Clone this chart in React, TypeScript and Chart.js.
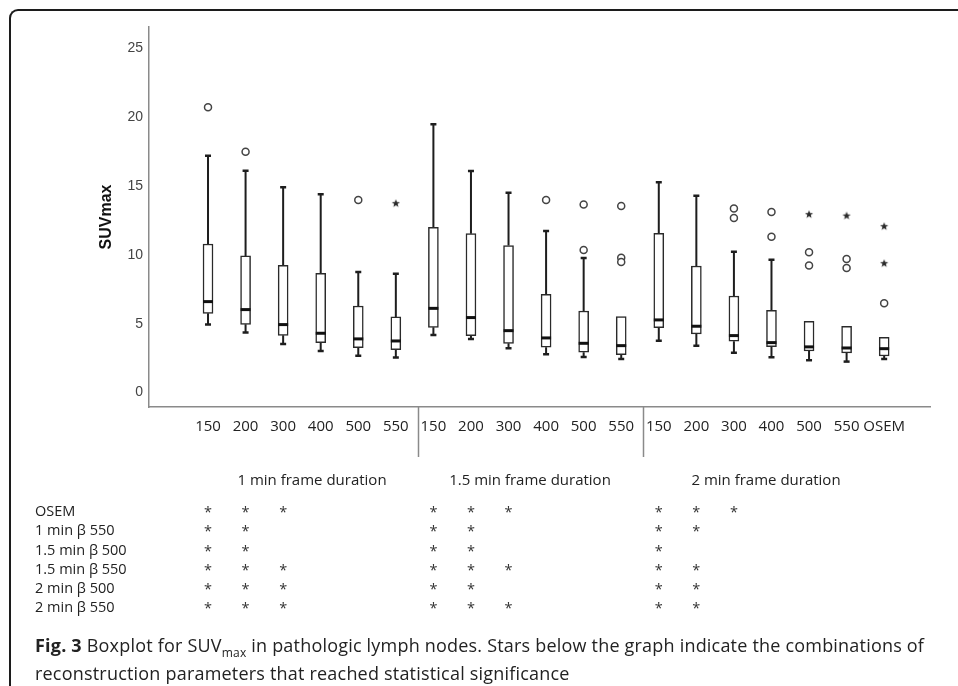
import React, { useEffect, useRef } from "react";
import { Chart, registerables } from "chart.js";

Chart.register(...registerables);

// ---- data ----
const xLabels = ["150", "200", "300", "400", "500", "550", "150", "200", "300", "400", "500", "550", "150", "200", "300", "400", "500", "550", "OSEM"];
const groupNames = ["1 min frame duration", "1.5 min frame duration", "2 min frame duration"];
const groupSizes = [6, 6, 7];

const whiskerLow = [4.75, 4.17, 3.34, 2.83, 2.49, 2.35, 4.0, 3.71, 3.03, 2.59, 2.4, 2.25, 3.58, 3.22, 2.71, 2.37, 2.16, 2.06, 2.25];
const q1 = [5.57, 4.77, 3.97, 3.44, 3.08, 2.93, 4.55, 3.95, 3.39, 3.1, 2.74, 2.57, 4.53, 4.07, 3.54, 3.15, 2.83, 2.69, 2.47];
const median = [6.42, 5.84, 4.75, 4.12, 3.71, 3.56, 5.93, 5.26, 4.31, 3.78, 3.39, 3.22, 5.09, 4.63, 3.95, 3.44, 3.13, 3.05, 3.0];
const q3 = [10.61, 9.74, 9.06, 8.48, 6.1, 5.31, 11.82, 11.36, 10.49, 6.95, 5.74, 5.33, 11.39, 9.01, 6.83, 5.79, 4.99, 4.63, 3.83];
const whiskerHigh = [17.03, 15.94, 14.73, 14.22, 8.58, 8.45, 19.31, 15.92, 14.34, 11.56, 9.59, 5.33, 15.09, 14.12, 10.05, 9.47, 4.99, 4.63, 3.83];

const outlierIdx = [0, 1, 4, 9, 10, 10, 11, 11, 11, 14, 14, 15, 15, 16, 16, 17, 17, 18];
const outlierVal = [20.55, 17.32, 13.81, 13.81, 13.47, 10.17, 13.37, 9.6, 9.3, 13.18, 12.5, 12.94, 11.14, 10.0, 9.04, 9.52, 8.87, 6.3];
const extremeIdx = [5, 16, 17, 18, 18];
const extremeVal = [13.57, 12.77, 12.67, 11.9, 9.21];

const yTicks = [0, 5, 10, 15, 20, 25];

const rowLabels = ["OSEM", "1 min \u03b2 550", "1.5 min \u03b2 500", "1.5 min \u03b2 550", "2 min \u03b2 500", "2 min \u03b2 550"];
const sigColumns = [0, 1, 2, 6, 7, 8, 12, 13, 14];
const sigRows = [
  [1, 1, 1, 1, 1, 1, 1, 1, 1],
  [1, 1, 0, 1, 1, 0, 1, 1, 0],
  [1, 1, 0, 1, 1, 0, 1, 0, 0],
  [1, 1, 1, 1, 1, 1, 1, 1, 0],
  [1, 1, 1, 1, 1, 0, 1, 1, 0],
  [1, 1, 1, 1, 1, 1, 1, 1, 0],
];

function makeStar(): HTMLCanvasElement {
  const c = document.createElement("canvas");
  c.width = 10;
  c.height = 10;
  const g = c.getContext("2d")!;
  g.fillStyle = "#2a2a2a";
  g.beginPath();
  for (let k = 0; k < 10; k++) {
    const r = k % 2 ? 1.8 : 4.3;
    const a = -Math.PI / 2 + (k * Math.PI) / 5;
    const px = 5 + r * Math.cos(a);
    const py = 5.3 + r * Math.sin(a);
    if (k === 0) g.moveTo(px, py);
    else g.lineTo(px, py);
  }
  g.closePath();
  g.fill();
  return c;
}

const boxPlugin = {
  id: "boxplotParts",
  beforeDatasetsDraw(chart: any) {
    const { ctx, scales } = chart;
    const x = scales.x;
    const y = scales.y;
    ctx.save();
    ctx.strokeStyle = "#1e1e1e";
    for (let i = 0; i < q1.length; i++) {
      const px = x.getPixelForValue(i);
      ctx.lineWidth = 2;
      ctx.beginPath();
      if (whiskerHigh[i] > q3[i]) {
        ctx.moveTo(px, y.getPixelForValue(whiskerHigh[i]));
        ctx.lineTo(px, y.getPixelForValue(q3[i]));
      }
      if (whiskerLow[i] < q1[i]) {
        ctx.moveTo(px, y.getPixelForValue(q1[i]));
        ctx.lineTo(px, y.getPixelForValue(whiskerLow[i]));
      }
      ctx.stroke();
      ctx.lineWidth = 2.5;
      ctx.beginPath();
      if (whiskerHigh[i] > q3[i]) {
        const yy = y.getPixelForValue(whiskerHigh[i]);
        ctx.moveTo(px - 3, yy);
        ctx.lineTo(px + 3, yy);
      }
      if (whiskerLow[i] < q1[i]) {
        const yy = y.getPixelForValue(whiskerLow[i]);
        ctx.moveTo(px - 3, yy);
        ctx.lineTo(px + 3, yy);
      }
      ctx.stroke();
    }
    ctx.restore();
  },
  afterDatasetsDraw(chart: any) {
    const { ctx, scales } = chart;
    const x = scales.x;
    const y = scales.y;
    ctx.save();
    ctx.strokeStyle = "#111";
    ctx.lineWidth = 3;
    for (let i = 0; i < median.length; i++) {
      const px = x.getPixelForValue(i);
      const yy = y.getPixelForValue(median[i]);
      ctx.beginPath();
      ctx.moveTo(px - 5, yy);
      ctx.lineTo(px + 5, yy);
      ctx.stroke();
    }
    ctx.restore();
  },
  afterDraw(chart: any) {
    const { ctx, scales, chartArea } = chart;
    const x = scales.x;
    ctx.save();
    // group separators
    ctx.strokeStyle = "#8a8a8a";
    ctx.lineWidth = 1.5;
    let acc = 0;
    for (let g = 0; g < groupSizes.length - 1; g++) {
      acc += groupSizes[g];
      const px = Math.round(x.getPixelForValue(acc - 0.5) + 3) + 0.5;
      ctx.beginPath();
      ctx.moveTo(px, chartArea.bottom);
      ctx.lineTo(px, chartArea.bottom + 50);
      ctx.stroke();
    }
    // group headings
    ctx.fillStyle = "#222";
    ctx.font = "15px 'Open Sans'";
    ctx.textAlign = "center";
    ctx.textBaseline = "middle";
    const headingX = [312, 530, 766];
    groupNames.forEach((n, k) => ctx.fillText(n, headingX[k], 481));
    // rows
    ctx.font = "14.5px 'Open Sans'";
    ctx.textAlign = "left";
    rowLabels.forEach((lab, r) => {
      const yy = 512 + r * 19.2;
      ctx.fillStyle = "#222";
      ctx.fillText(lab, 35, yy);
      ctx.fillStyle = "#333";
      ctx.textAlign = "center";
      sigRows[r].forEach((s, c) => {
        if (s) ctx.fillText("*", x.getPixelForValue(sigColumns[c]), yy + 1);
      });
      ctx.textAlign = "left";
    });
    ctx.restore();
  },
};

export default function App() {
  const ref = useRef<HTMLCanvasElement>(null);
  useEffect(() => {
    document.body.style.margin = "0";
    const star = makeStar();
    const chart = new Chart(ref.current!, {
      type: "bar",
      data: {
        datasets: [
          {
            type: "bar",
            data: q1.map((v, i) => ({ x: i, y: [v, q3[i]] })) as any,
            backgroundColor: "#ffffff",
            borderColor: "#2a2a2a",
            borderWidth: 1.5,
            borderSkipped: false,
            barThickness: 10,
          } as any,
          {
            type: "scatter",
            data: outlierIdx.map((i, k) => ({ x: i, y: outlierVal[k] })),
            pointStyle: "circle",
            pointRadius: 3.5,
            borderWidth: 1.5,
            borderColor: "#444",
            backgroundColor: "#fff",
          } as any,
          {
            type: "scatter",
            data: extremeIdx.map((i, k) => ({ x: i, y: extremeVal[k] })),
            pointStyle: star,
            pointRadius: 5,
          } as any,
        ],
      },
      options: {
        animation: false,
        responsive: false,
        events: [],
        layout: { padding: { left: 93, top: 27, right: 28, bottom: 0 } },
        plugins: { legend: { display: false }, tooltip: { enabled: false } },
        scales: {
          x: {
            type: "linear",
            offset: false,
            min: -1.571,
            max: 19.22,
            grid: { display: false, drawTicks: false, offset: false },
            border: { display: true, color: "#8a8a8a", width: 1.5 },
            afterBuildTicks: (s: any) => {
              s.ticks = xLabels.map((_, i) => ({ value: i }));
            },
            afterFit: (s: any) => {
              s.height = 223;
            },
            ticks: {
              autoSkip: false,
              maxRotation: 0,
              padding: 11,
              color: "#222",
              font: { family: "'Open Sans'", size: 15 },
              callback: (v: any) => xLabels[v as number] ?? "",
            },
          },
          y: {
            type: "linear",
            min: -1.24,
            max: 26.38,
            grid: { display: false, drawTicks: false },
            border: { display: true, color: "#8a8a8a", width: 1.5 },
            afterBuildTicks: (s: any) => {
              s.ticks = yTicks.map((v) => ({ value: v }));
            },
            afterFit: (s: any) => {
              s.width = 56;
            },
            ticks: {
              padding: 6,
              labelOffset: 2.5,
              color: "#444",
              font: { family: "'Liberation Sans'", size: 14 },
            },
            title: {
              display: true,
              text: "SUVmax",
              color: "#111",
              padding: 4,
              font: { family: "'Liberation Sans'", size: 16, weight: "bold" },
            },
          },
        },
      },
      plugins: [boxPlugin],
    } as any);
    return () => chart.destroy();
  }, []);

  return (
    <div style={{ position: "relative", width: 958, height: 686, overflow: "hidden", background: "#fff" }}>
      <canvas ref={ref} width={958} height={630} style={{ position: "absolute", left: 0, top: 0 }} />
      <div
        style={{
          position: "absolute",
          left: 9,
          top: 9,
          width: 1200,
          height: 1200,
          borderTop: "2.5px solid #1c1c1c",
          borderLeft: "2.5px solid #1c1c1c",
          borderTopLeftRadius: 9,
          boxSizing: "border-box",
          pointerEvents: "none",
        }}
      />
      <div
        style={{
          position: "absolute",
          left: 35,
          top: 631,
          fontFamily: "'Open Sans', sans-serif",
          fontSize: 18,
          letterSpacing: 0.2,
          lineHeight: "28px",
          color: "#222",
          whiteSpace: "nowrap",
        }}
      >
        <b>Fig. 3</b> Boxplot for SUV<sub style={{ fontSize: 12, lineHeight: 0 }}>max</sub> in pathologic lymph nodes. Stars below the graph indicate the combinations of
        <br />
        reconstruction parameters that reached statistical significance
      </div>
    </div>
  );
}
